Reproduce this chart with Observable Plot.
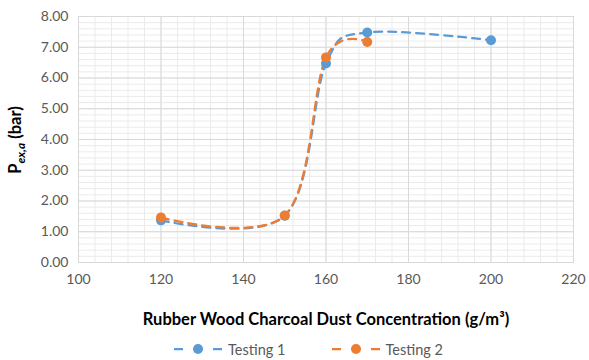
<!DOCTYPE html>
<html>
<head>
<meta charset="utf-8">
<script src="https://cdn.jsdelivr.net/npm/d3@7"></script>
<script src="https://cdn.jsdelivr.net/npm/@observablehq/plot@0.6"></script>
<style>
  body { margin: 0; background: #fff; font-family: Lato, "Open Sans", sans-serif; }
  #chart { width: 589px; }
  g[aria-label="x-axis label"] text { font-weight: bold; font-size: 16.5px; fill: #000; }
  .legend { display: flex; justify-content: center; gap: 46px; padding-left: 28px; font-size: 14.5px; color: #595959; height: 22px; align-items: center; }
  .legend .item { display: flex; align-items: center; gap: 6px; }
</style>
</head>
<body>
<div id="chart"></div>
<script>
// ---- data ----
const conc1 = [120, 150, 160, 170, 200];
const pres1 = [1.37, 1.52, 6.47, 7.48, 7.23];
const conc2 = [120, 150, 160, 170];
const pres2 = [1.46, 1.53, 6.67, 7.17];
const seriesNames = ["Testing 1", "Testing 2"];
const xTicks = [100, 120, 140, 160, 180, 200, 220];
const yTicks = [0, 1, 2, 3, 4, 5, 6, 7, 8];
const xMinorTicks = d3.range(100, 221, 4);
const yMinorTicks = d3.range(0, 8.01, 0.2);
const colors = ["#5B9BD5", "#ED7D31"];

const t1 = conc1.map((c, i) => ({c, p: pres1[i]}));
const t2 = conc2.map((c, i) => ({c, p: pres2[i]}));

const chart = Plot.plot({
  width: 589,
  height: 338,
  marginLeft: 78,
  marginRight: 16,
  marginTop: 16,
  marginBottom: 76,
  style: {fontFamily: "Lato, 'Open Sans', sans-serif", background: "#fff"},
  x: {domain: [100, 220]},
  y: {domain: [0, 8]},
  marks: [
    Plot.gridX(xMinorTicks, {stroke: "#ebebeb", strokeOpacity: 1}),
    Plot.gridY(yMinorTicks, {stroke: "#ebebeb", strokeOpacity: 1}),
    Plot.gridX(xTicks, {stroke: "#d9d9d9", strokeOpacity: 1}),
    Plot.gridY(yTicks, {stroke: "#d9d9d9", strokeOpacity: 1}),
    Plot.frame({stroke: "#d9d9d9"}),
    Plot.axisX(xTicks, {tickSize: 0, tickPadding: 12, fontSize: 14, color: "#595959",
      label: "Rubber Wood Charcoal Dust Concentration (g/m³)", labelAnchor: "center", labelArrow: "none", labelOffset: 62}),
    Plot.axisY(yTicks, {tickSize: 0, tickPadding: 10, fontSize: 14, color: "#595959",
      tickFormat: d => d.toFixed(2), label: null}),
    Plot.line(t1, {x: "c", y: "p", curve: "cardinal", stroke: colors[0], strokeWidth: 2.25, strokeDasharray: "8,6"}),
    Plot.line(t2, {x: "c", y: "p", curve: "cardinal", stroke: colors[1], strokeWidth: 2.25, strokeDasharray: "8,6"}),
    Plot.dot(t1, {x: "c", y: "p", r: 5, fill: colors[0]}),
    Plot.dot(t2, {x: "c", y: "p", r: 5, fill: colors[1]})
  ]
});

// y-axis label with italic subscript
const svg = d3.select(chart);
const yl = svg.append("text")
  .attr("transform", "translate(21,140) rotate(-90)")
  .attr("text-anchor", "middle")
  .attr("font-size", 16.5)
  .attr("font-weight", "bold")
  .attr("fill", "#000");
yl.append("tspan").text("P");
yl.append("tspan").attr("font-style", "italic").attr("font-size", 12).attr("dy", 4).text("ex,a");
yl.append("tspan").attr("dy", -4).text(" (bar)");

document.getElementById("chart").appendChild(chart);

// legend
const legend = d3.select("#chart").append("div").attr("class", "legend");
seriesNames.forEach((name, i) => {
  const item = legend.append("div").attr("class", "item");
  const s = item.append("svg").attr("width", 48).attr("height", 14);
  s.append("line").attr("x1", 0).attr("x2", 48).attr("y1", 7).attr("y2", 7)
    .attr("stroke", colors[i]).attr("stroke-width", 2.25).attr("stroke-dasharray", "9,10.5");
  s.append("circle").attr("cx", 24).attr("cy", 7).attr("r", 5).attr("fill", colors[i]);
  item.append("span").text(name);
});
</script>
</body>
</html>
